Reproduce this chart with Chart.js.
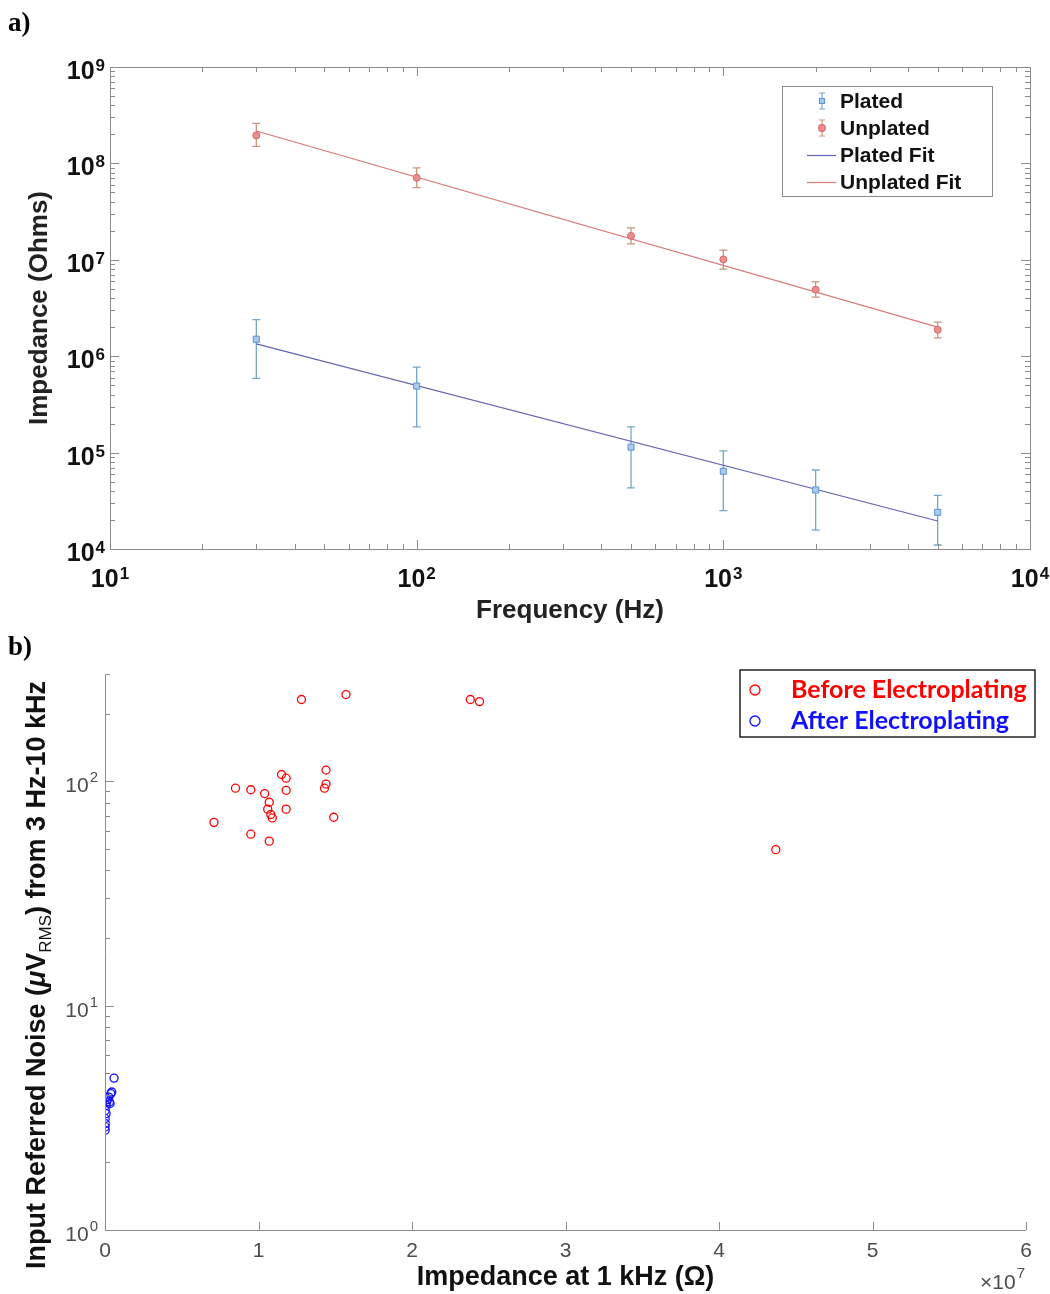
<!DOCTYPE html>
<html>
<head>
<meta charset="utf-8">
<script src="https://cdn.jsdelivr.net/npm/chart.js@4.4.0/dist/chart.umd.min.js"></script>
<style>
  body { margin: 0; background: #fff; }
  #wrap { position: relative; width: 1050px; height: 1294px; }
  #chartA { position: absolute; left: 0; top: 0; }
  #chartB { position: absolute; left: 0; top: 630px; }
  .tag { position: absolute; font-family: 'Liberation Serif', 'Times New Roman', serif; font-weight: bold; font-size: 27px; line-height: 27px; }
</style>
</head>
<body>
<div id="wrap">
  <canvas id="chartA" width="1050" height="630"></canvas>
  <canvas id="chartB" width="1050" height="664"></canvas>
  <div class="tag" style="left:8px;top:9px">a)</div>
  <div class="tag" style="left:8px;top:633px">b)</div>
</div>
<script>
// ---- panel a) data : impedance vs frequency ----
const freqs = [30, 100, 500, 1000, 2000, 5000];
const platedZ = [1.5e6, 4.9e5, 1.14e5, 6.4e4, 4.1e4, 2.4e4];
const platedLo = [5.9e5, 1.85e5, 4.3e4, 2.5e4, 1.57e4, 1.1e4];
const platedHi = [2.4e6, 7.7e5, 1.85e5, 1.04e5, 6.6e4, 3.6e4];
const unplatedZ = [1.95e8, 7.1e7, 1.77e7, 1.01e7, 4.9e6, 1.88e6];
const unplatedLo = [1.5e8, 5.6e7, 1.46e7, 8.0e6, 4.1e6, 1.55e6];
const unplatedHi = [2.6e8, 9.0e7, 2.14e7, 1.26e7, 5.9e6, 2.26e6];
const fitFreqs = [30, 5000];
const platedFit = [1.34e6, 1.95e4];
const unplatedFit = [2.17e8, 2.0e6];
const freqTicks = [10, 100, 1000, 10000];
const impTicks = [1e4, 1e5, 1e6, 1e7, 1e8, 1e9];

// ---- panel b) data : noise vs impedance at 1 kHz ----
const beforeImp = [1.28e7, 1.57e7, 2.38e7, 2.44e7, 1.44e7, 1.15e7, 1.18e7, 0.85e7, 0.95e7, 1.04e7, 1.18e7, 1.44e7,
  1.43e7, 1.07e7, 1.06e7, 1.08e7, 1.09e7, 1.18e7, 1.49e7, 0.71e7, 0.95e7, 1.07e7, 4.37e7];
const beforeNoise = [231, 243, 231, 226, 112, 107, 103, 93, 91.5, 88, 91, 97,
  93, 80.5, 75, 71, 68.5, 75, 69, 65.5, 58, 54, 49.5];
const afterImp = [5.9e5, 4.4e5, 3.8e5, 2.5e5, 1.6e5, 1.1e5, 2.9e5, 3.3e5, 7e4, 2e4, 7e4, 1e4, 3e4, 5e3, 1e4];
const afterNoise = [4.75, 4.12, 4.05, 3.91, 3.81, 3.72, 3.72, 3.66, 3.59, 3.41, 3.30, 3.14, 2.98, 2.88, 2.78];
const impBTicks = [0, 1e7, 2e7, 3e7, 4e7, 5e7, 6e7];
const noiseTicks = [1, 10, 100];

const FONT = "'Liberation Sans', Arial, Helvetica, sans-serif";

function logSteps(min, max) {
  const out = [];
  for (let e = Math.floor(Math.log10(min)); e <= Math.ceil(Math.log10(max)); e++) {
    for (let k = 1; k < 10; k++) {
      const v = k * Math.pow(10, e);
      if (v >= min * 0.9999 && v <= max * 1.0001) out.push({ v, major: k === 1 });
    }
  }
  return out;
}

// "10" with a raised exponent, like the MATLAB tick labels
function drawPow(ctx, v, x, y, align, s) {
  const e = String(Math.round(Math.log10(v)));
  ctx.font = s.weight + ' ' + s.base + 'px ' + FONT;
  const w1 = ctx.measureText('10').width;
  ctx.font = s.weight + ' ' + s.exp + 'px ' + FONT;
  const w2 = ctx.measureText(e).width;
  const total = w1 + w2 + 1;
  const x0 = align === 'right' ? x - total : x - total / 2;
  ctx.textAlign = 'left';
  ctx.textBaseline = 'alphabetic';
  ctx.fillStyle = s.color;
  ctx.font = s.weight + ' ' + s.base + 'px ' + FONT;
  ctx.fillText('10', x0, y);
  ctx.font = s.weight + ' ' + s.exp + 'px ' + FONT;
  ctx.fillText(e, x0 + w1 + 1, y - s.raise);
}

// error bars, drawn from errLo / errHi through the scales
const errorBars = {
  id: 'errorBars',
  beforeDatasetsDraw(chart) {
    const { ctx, scales: { x, y } } = chart;
    chart.data.datasets.forEach(ds => {
      if (!ds.errLo) return;
      ctx.save();
      ctx.strokeStyle = ds.errColor;
      ctx.lineWidth = 1.3;
      ds.data.forEach((p, i) => {
        const px = x.getPixelForValue(p.x);
        const y1 = y.getPixelForValue(ds.errLo[i]);
        const y2 = y.getPixelForValue(ds.errHi[i]);
        ctx.beginPath();
        ctx.moveTo(px, y1); ctx.lineTo(px, y2);
        ctx.moveTo(px - 4, y1); ctx.lineTo(px + 4, y1);
        ctx.moveTo(px - 4, y2); ctx.lineTo(px + 4, y2);
        ctx.stroke();
      });
      ctx.restore();
    });
  }
};

// box, inward ticks on all four sides, tick labels and legend for panel a)
const frameA = {
  id: 'frameA',
  afterDraw(chart) {
    const { ctx, chartArea: a, scales: { x, y } } = chart;
    ctx.save();
    ctx.strokeStyle = '#8c8c8c';
    ctx.lineWidth = 1;
    ctx.strokeRect(a.left + 0.5, a.top + 0.5, a.right - a.left, a.bottom - a.top);
    ctx.beginPath();
    logSteps(x.min, x.max).forEach(t => {
      const px = Math.round(x.getPixelForValue(t.v)) + 0.5;
      const len = t.major ? 9 : 5;
      ctx.moveTo(px, a.bottom); ctx.lineTo(px, a.bottom - len);
      ctx.moveTo(px, a.top); ctx.lineTo(px, a.top + len);
    });
    logSteps(y.min, y.max).forEach(t => {
      const py = Math.round(y.getPixelForValue(t.v)) + 0.5;
      const len = t.major ? 9 : 5;
      ctx.moveTo(a.left, py); ctx.lineTo(a.left + len, py);
      ctx.moveTo(a.right, py); ctx.lineTo(a.right - len, py);
    });
    ctx.stroke();

    const lab = { base: 25, exp: 17, raise: 8, weight: 'bold', color: '#111' };
    x.ticks.forEach(t => drawPow(ctx, t.value, x.getPixelForValue(t.value), a.bottom + 38, 'center', lab));
    y.ticks.forEach(t => drawPow(ctx, t.value, a.left - 5, y.getPixelForValue(t.value) + 12, 'right', lab));

    // legend
    const ds = chart.data.datasets;
    ctx.strokeStyle = '#8c8c8c';
    ctx.lineWidth = 1;
    ctx.strokeRect(782.5, 86.5, 210, 110);
    ctx.font = 'bold 21px ' + FONT;
    ctx.textBaseline = 'middle';
    const rows = [101, 128, 155, 182];
    ds.forEach((d, i) => {
      const cy = rows[i];
      if (d.errLo) {
        ctx.strokeStyle = d.errColor;
        ctx.lineWidth = 1.2;
        ctx.beginPath();
        ctx.moveTo(822, cy - 8); ctx.lineTo(822, cy + 8);
        ctx.moveTo(819, cy - 8); ctx.lineTo(825, cy - 8);
        ctx.moveTo(819, cy + 8); ctx.lineTo(825, cy + 8);
        ctx.stroke();
        ctx.fillStyle = d.backgroundColor;
        ctx.strokeStyle = d.borderColor;
        ctx.beginPath();
        if (d.pointStyle === 'circle') ctx.arc(822, cy, 3.3, 0, Math.PI * 2);
        else ctx.rect(819.5, cy - 2.5, 5, 5);
        ctx.fill(); ctx.stroke();
      } else {
        ctx.strokeStyle = d.borderColor;
        ctx.lineWidth = 1.2;
        ctx.beginPath();
        ctx.moveTo(807, cy + 0.5); ctx.lineTo(836, cy + 0.5);
        ctx.stroke();
      }
      ctx.fillStyle = '#111';
      ctx.textAlign = 'left';
      ctx.fillText(d.label, 840, cy + 1);
    });
    ctx.restore();
  }
};

// axes, inward ticks, y labels, legend, y title and exponent for panel b)
const frameB = {
  id: 'frameB',
  afterDraw(chart) {
    const { ctx, chartArea: a, scales: { x, y } } = chart;
    ctx.save();
    ctx.strokeStyle = '#8c8c8c';
    ctx.lineWidth = 1;
    ctx.beginPath();
    ctx.moveTo(a.left + 0.5, a.top); ctx.lineTo(a.left + 0.5, a.bottom + 0.5); ctx.lineTo(a.right, a.bottom + 0.5);
    impBTicks.forEach(v => {
      const px = Math.round(x.getPixelForValue(v)) + 0.5;
      ctx.moveTo(px, a.bottom); ctx.lineTo(px, a.bottom - 8);
    });
    logSteps(y.min, y.max).forEach(t => {
      const py = Math.round(y.getPixelForValue(t.v)) + 0.5;
      ctx.moveTo(a.left, py); ctx.lineTo(a.left + (t.major ? 9 : 5), py);
    });
    ctx.stroke();

    const lab = { base: 21, exp: 15, raise: 10, weight: 'normal', color: '#4d4d4d' };
    y.ticks.forEach(t => drawPow(ctx, t.value, a.left - 7, y.getPixelForValue(t.value) + 11, 'right', lab));

    // exponent of x axis
    ctx.fillStyle = '#4d4d4d';
    ctx.textBaseline = 'alphabetic';
    ctx.textAlign = 'left';
    ctx.font = '21px ' + FONT;
    const wx = ctx.measureText('×10').width;
    ctx.font = '15px ' + FONT;
    const we = ctx.measureText('7').width;
    ctx.font = '21px ' + FONT;
    ctx.fillText('×10', 1025 - we - 1 - wx, 659);
    ctx.font = '15px ' + FONT;
    ctx.fillText('7', 1025 - we, 648);

    // legend
    const ds = chart.data.datasets;
    ctx.strokeStyle = '#222';
    ctx.lineWidth = 1.5;
    ctx.strokeRect(740, 40, 295, 67);
    ctx.textBaseline = 'middle';
    ctx.font = 'bold 25px Lato, ' + FONT;
    [60, 91].forEach((cy, i) => {
      ctx.strokeStyle = ds[i].borderColor;
      ctx.lineWidth = 1.3;
      ctx.beginPath();
      ctx.arc(755, cy, 5, 0, Math.PI * 2);
      ctx.stroke();
      ctx.fillStyle = ds[i].borderColor;
      ctx.fillText(ds[i].label, 791, cy);
    });

    // y title with subscript
    const parts = [
      { t: 'Input Referred Noise (', f: 'bold 27px ' + FONT, dy: 0 },
      { t: 'μ', f: 'italic bold 27px ' + FONT, dy: 0 },
      { t: 'V', f: 'bold 27px ' + FONT, dy: 0 },
      { t: 'RMS', f: '17px ' + FONT, dy: 8 },
      { t: ') from 3 Hz-10 kHz', f: 'bold 27px ' + FONT, dy: 0 }
    ];
    let total = 0;
    parts.forEach(p => { ctx.font = p.f; p.w = ctx.measureText(p.t).width; total += p.w; });
    ctx.translate(38, 345);
    ctx.rotate(-Math.PI / 2);
    ctx.fillStyle = '#111';
    let cx = -total / 2;
    parts.forEach(p => { ctx.font = p.f; ctx.fillText(p.t, cx, p.dy); cx += p.w; });
    ctx.restore();
  }
};

const pts = (xs, ys) => xs.map((v, i) => ({ x: v, y: ys[i] }));

new Chart(document.getElementById('chartA'), {
  type: 'scatter',
  data: {
    datasets: [{
      label: 'Plated',
      data: pts(freqs, platedZ),
      errLo: platedLo, errHi: platedHi, errColor: '#74a8c6',
      pointStyle: 'rect', pointRadius: 4.3,
      backgroundColor: '#aacaec', borderColor: '#5e94d4', borderWidth: 1
    }, {
      label: 'Unplated',
      data: pts(freqs, unplatedZ),
      errLo: unplatedLo, errHi: unplatedHi, errColor: '#c8967f',
      pointStyle: 'circle', pointRadius: 3.5,
      backgroundColor: '#ec8e8e', borderColor: '#d56a6a', borderWidth: 1
    }, {
      label: 'Plated Fit',
      data: pts(fitFreqs, platedFit),
      showLine: true, pointRadius: 0, borderColor: '#6464b4', borderWidth: 1.2
    }, {
      label: 'Unplated Fit',
      data: pts(fitFreqs, unplatedFit),
      showLine: true, pointRadius: 0, borderColor: '#d67a7a', borderWidth: 1.2
    }]
  },
  options: {
    responsive: false,
    animation: false,
    layout: { padding: { top: 67, right: 20, bottom: 0, left: 0 } },
    plugins: { legend: { display: false }, tooltip: { enabled: false } },
    scales: {
      x: {
        type: 'logarithmic', min: 10, max: 10000,
        afterBuildTicks: s => { s.ticks = freqTicks.map(v => ({ value: v })); },
        afterFit: s => { s.height = 81; s.paddingLeft = 0; s.paddingRight = 0; },
        ticks: { display: false },
        grid: { display: false, drawTicks: false },
        border: { display: false },
        title: { display: true, text: 'Frequency (Hz)', color: '#222', padding: { top: 0, bottom: 4 },
          font: { family: FONT, size: 26, weight: 'bold' } }
      },
      y: {
        type: 'logarithmic', min: 1e4, max: 1e9,
        afterBuildTicks: s => { s.ticks = impTicks.map(v => ({ value: v })); },
        afterFit: s => { s.width = 110; },
        ticks: { display: false },
        grid: { display: false, drawTicks: false },
        border: { display: false },
        title: { display: true, text: 'Impedance (Ohms)', color: '#222', padding: { top: 24, bottom: 0 },
          font: { family: FONT, size: 26, weight: 'bold' } }
      }
    }
  },
  plugins: [errorBars, frameA]
});

new Chart(document.getElementById('chartB'), {
  type: 'scatter',
  data: {
    datasets: [{
      label: 'Before Electroplating',
      data: pts(beforeImp, beforeNoise),
      pointStyle: 'circle', pointRadius: 4, borderWidth: 1.3,
      borderColor: '#ff0000', backgroundColor: 'rgba(0,0,0,0)'
    }, {
      label: 'After Electroplating',
      data: pts(afterImp, afterNoise),
      pointStyle: 'circle', pointRadius: 4, borderWidth: 1.3,
      borderColor: '#1010ff', backgroundColor: 'rgba(0,0,0,0)'
    }]
  },
  options: {
    responsive: false,
    animation: false,
    layout: { padding: { top: 44, right: 24, bottom: 0, left: 0 } },
    plugins: { legend: { display: false }, tooltip: { enabled: false } },
    scales: {
      x: {
        type: 'linear', min: 0, max: 6e7,
        afterBuildTicks: s => { s.ticks = impBTicks.map(v => ({ value: v })); },
        afterFit: s => { s.height = 64; s.paddingLeft = 0; s.paddingRight = 0; },
        ticks: { callback: v => String(Math.round(v / 1e7)), autoSkip: false, maxRotation: 0, padding: 9,
          color: '#4d4d4d', font: { family: FONT, size: 21 } },
        grid: { display: false, drawTicks: false },
        border: { display: false },
        title: { display: true, text: 'Impedance at 1 kHz (Ω)', color: '#111', padding: { top: 0, bottom: 0 },
          font: { family: FONT, size: 27, weight: 'bold' } }
      },
      y: {
        type: 'logarithmic', min: 1, max: 300,
        afterBuildTicks: s => { s.ticks = noiseTicks.map(v => ({ value: v })); },
        afterFit: s => { s.width = 105; },
        ticks: { display: false },
        grid: { display: false, drawTicks: false },
        border: { display: false },
        title: { display: false }
      }
    }
  },
  plugins: [frameB]
});
</script>
</body>
</html>
